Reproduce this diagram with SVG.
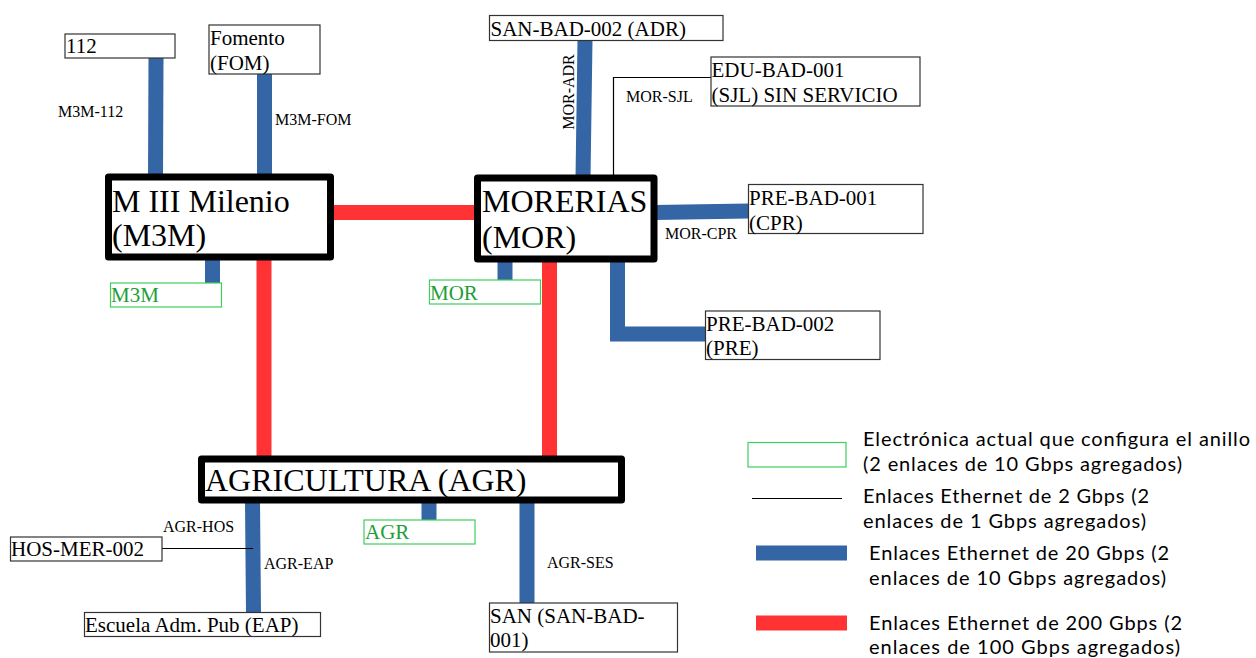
<svg xmlns="http://www.w3.org/2000/svg" width="1256" height="658" viewBox="0 0 1256 658">
<style>
.bg{fill:#fff}
.box{fill:#fff;stroke:#333;stroke-width:1.2}
.main{fill:#fff;stroke:#000;stroke-width:7;stroke-linejoin:round}
.grn{fill:#fff;stroke:#3fcf5a;stroke-width:1.2}
.t{font-family:"Liberation Serif",serif;font-size:21px;fill:#000}
.tm{font-family:"Liberation Serif",serif;font-size:32px;fill:#000}
.tg{font-family:"Liberation Serif",serif;font-size:21px;fill:#1e9e3a}
.lbl{font-family:"Liberation Serif",serif;font-size:16px;fill:#000}
.leg{font-family:Lato,"Open Sans",sans-serif;font-size:20px;fill:#000}
.blue{stroke:#3465a4;stroke-width:15;fill:none}
.red{stroke:#ff3333;stroke-width:15;fill:none}
.thin{stroke:#000;stroke-width:1.2;fill:none}
</style>
<rect class="bg" x="0" y="0" width="1256" height="658"/>
<g id="connectors">
<line class="blue" x1="156" y1="58" x2="155.5" y2="178"/>
<line class="blue" x1="264.5" y1="73" x2="264.5" y2="180"/>
<line class="red" x1="331" y1="212.5" x2="478" y2="212.5"/>
<line class="blue" x1="212.5" y1="258" x2="212.5" y2="283"/>
<line class="red" x1="264" y1="258" x2="264" y2="460"/>
<line class="blue" x1="585" y1="40" x2="583" y2="178"/>
<polyline class="thin" points="613.5,176 613.5,77.5 711,77.5"/>
<line class="blue" x1="654" y1="212.5" x2="749" y2="211"/>
<polyline class="blue" points="617.5,258 617.5,334 706,334"/>
<line class="blue" x1="505" y1="259" x2="505" y2="284"/>
<line class="red" x1="549.5" y1="259" x2="549.5" y2="460"/>
<line class="blue" x1="252.5" y1="502" x2="253.5" y2="612"/>
<line class="thin" x1="162" y1="548.5" x2="253" y2="548.5"/>
<line class="blue" x1="429" y1="502" x2="429" y2="527"/>
<line class="blue" x1="527" y1="502" x2="527" y2="603"/>
</g>
<g id="n112"><rect class="box" x="65" y="34" width="110" height="24"/><text class="t" x="66" y="53">112</text></g>
<g id="nFOM"><rect class="box" x="209" y="25" width="111" height="49"/><text class="t" x="210" y="45">Fomento</text><text class="t" x="210" y="70">(FOM)</text></g>
<g id="nM3M"><rect class="main" x="108.5" y="177" width="222" height="80"/><text class="tm" x="112" y="212">M III Milenio</text><text class="tm" x="112" y="246">(M3M)</text></g>
<g id="gM3M"><rect class="grn" x="110.5" y="283" width="111" height="24"/><text class="tg" x="111" y="302">M3M</text></g>
<g id="nADR"><rect class="box" x="489.5" y="15.5" width="233.5" height="25"/><text class="t" x="490.5" y="36">SAN-BAD-002 (ADR)</text></g>
<g id="nSJL"><rect class="box" x="711" y="57" width="209" height="49"/><text class="t" x="711.5" y="77">EDU-BAD-001</text><text class="t" x="711.5" y="101.5">(SJL) SIN SERVICIO</text></g>
<g id="nMOR"><rect class="main" x="477.5" y="178" width="176.5" height="81"/><text class="tm" x="482" y="212">MORERIAS</text><text class="tm" x="482" y="248">(MOR)</text></g>
<g id="gMOR"><rect class="grn" x="429.5" y="280" width="111" height="24"/><text class="tg" x="430" y="300">MOR</text></g>
<g id="nCPR"><rect class="box" x="748.5" y="184.5" width="174.5" height="49"/><text class="t" x="749" y="205">PRE-BAD-001</text><text class="t" x="749" y="230">(CPR)</text></g>
<g id="nPRE"><rect class="box" x="705.5" y="311" width="174.5" height="48.5"/><text class="t" x="706" y="331">PRE-BAD-002</text><text class="t" x="706" y="355">(PRE)</text></g>
<g id="nAGR"><rect class="main" x="201.5" y="459" width="420" height="41"/><text class="tm" x="205" y="491">AGRICULTURA (AGR)</text></g>
<g id="gAGR"><rect class="grn" x="364" y="520" width="111" height="24"/><text class="tg" x="365" y="539">AGR</text></g>
<g id="nHOS"><rect class="box" x="10.5" y="537" width="151.5" height="24"/><text class="t" x="11" y="556">HOS-MER-002</text></g>
<g id="nEAP"><rect class="box" x="84.5" y="612.5" width="236" height="24"/><text class="t" x="85" y="632">Escuela Adm. Pub (EAP)</text></g>
<g id="nSAN"><rect class="box" x="489.5" y="603" width="188" height="49"/><text class="t" x="490" y="623">SAN (SAN-BAD-</text><text class="t" x="490" y="647">001)</text></g>
<g id="labels">
<text class="lbl" x="58" y="117">M3M-112</text>
<text class="lbl" x="275" y="125">M3M-FOM</text>
<text class="lbl" transform="translate(574,92) rotate(-90)" text-anchor="middle">MOR-ADR</text>
<text class="lbl" x="626" y="102">MOR-SJL</text>
<text class="lbl" x="665" y="239">MOR-CPR</text>
<text class="lbl" x="163" y="532">AGR-HOS</text>
<text class="lbl" x="264" y="569">AGR-EAP</text>
<text class="lbl" x="547" y="568">AGR-SES</text>
</g>
<g id="legend">
<rect class="grn" x="748" y="442.5" width="98" height="24.5"/>
<line class="thin" x1="752" y1="498.5" x2="842" y2="498.5"/>
<line class="blue" x1="756" y1="553" x2="847" y2="553"/>
<line class="red" x1="756" y1="623" x2="847" y2="623"/>
<text class="leg" x="863" y="446" textLength="387">Electrónica actual que configura el anillo</text>
<text class="leg" x="863" y="471" textLength="319">(2 enlaces de 10 Gbps agregados)</text>
<text class="leg" x="863" y="503" textLength="286">Enlaces Ethernet de 2 Gbps (2</text>
<text class="leg" x="863" y="528" textLength="283">enlaces de 1 Gbps agregados)</text>
<text class="leg" x="869" y="560" textLength="300">Enlaces Ethernet de 20 Gbps (2</text>
<text class="leg" x="869" y="585" textLength="297">enlaces de 10 Gbps agregados)</text>
<text class="leg" x="869" y="630" textLength="313">Enlaces Ethernet de 200 Gbps (2</text>
<text class="leg" x="869" y="654" textLength="311">enlaces de 100 Gbps agregados)</text>
</g>
</svg>
